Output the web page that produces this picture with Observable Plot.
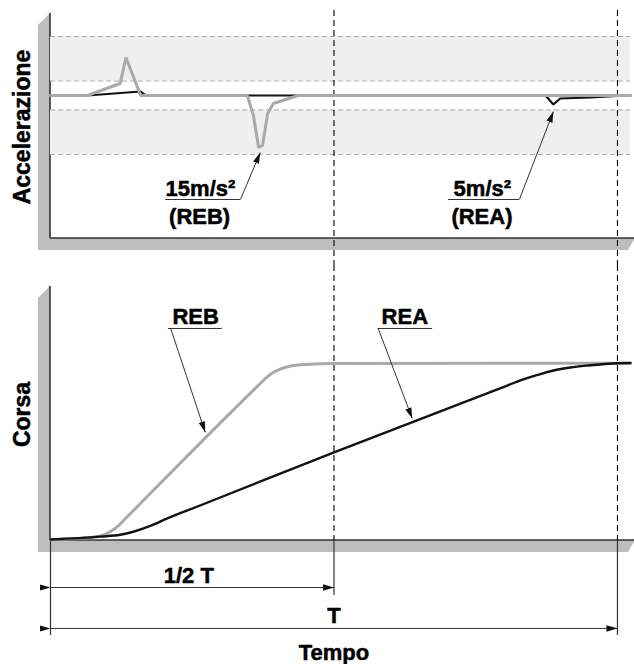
<!DOCTYPE html>
<html><head><meta charset="utf-8">
<script src="https://cdn.jsdelivr.net/npm/d3@7"></script>
<script src="https://cdn.jsdelivr.net/npm/@observablehq/plot@0.6"></script>
<style>
html,body{margin:0;padding:0;background:#fff;}
#chart svg{display:block;}
</style></head><body><div id="chart"></div>
<script>
// Time expressed in % of T (T = 100)
const halfT = 50, fullT = 100, tMax = 102.3;
const timeMarks = [halfT, fullT];

// Acceleration (schematic units, positive upwards)
const accTimeREB = [0, 6.5, 12.3, 13.3, 15.9, 34.7, 35.8, 36.7, 37.4, 38.3, 39.3, 43.7, 102.3];
const accREB     = [0, 0,   12,   38,   0,    0,    -20,  -52,  -50,  -18,  -8,   0,    0];
const accTimeREA = [0, 6.5, 15.9, 16.8, 87.3, 88.7, 89.9, 95.2, 100, 102.3];
const accREA     = [0, 0,   4,    0,    0,    -9,   -3,   -2,   -0.5, 0];
const bandLevels = [59, 14.5, -14.5, -59];

// Stroke (Corsa, % of full stroke)
const strokeTimeREB = [0, 7.05, 8.8, 10.6, 12.0, 13.4, 36.6, 37.8, 39.0, 40.4, 42.2, 45, 50, 102.3];
const strokeREB     = [0.6, 1.7, 2.5, 5.1, 8.4, 12.9, 87.0, 90.7, 93.8, 96.2, 97.9, 98.9, 99.4, 99.6];
const strokeTimeREA = [0, 8.8, 12.3, 14.6, 17.6, 20.6, 26.5, 49.9, 79.4, 82.9, 85.9, 88.7, 91.7, 94.7, 100, 102.3];
const strokeREA     = [0.6, 2.2, 3.2, 4.9, 8.2, 12.4, 19.8, 49.4, 85.6, 89.9, 93.0, 95.5, 97.2, 98.3, 99.6, 99.7];

// Texts
const accLabel = "Accelerazione";
const strokeLabel = "Corsa";
const timeLabel = "Tempo";
const dimLabels = ["1/2 T", "T"];
const accNotes = ["15m/s²", "(REB)", "5m/s²", "(REA)"];
const seriesNames = ["REB", "REA"];

const FONT = "Liberation Sans, Arial, Helvetica, sans-serif";
const GRAY = "#a9a9a9", BLACK = "#111", WALL = "#bdbdbd", AX = "#333";
const zip = (xs, ys) => xs.map((t, i) => ({t, v: ys[i]}));
const txt = {fontFamily: FONT, fontWeight: "bold", fontSize: 22, fill: "#000", stroke: "#000", strokeWidth: 0.5};
const vtxt = {...txt, fontSize: 23};

function decorate(chart, yTopVal, yBaseVal) {
  const sx = chart.scale("x"), sy = chart.scale("y");
  const x0 = sx.apply(0), x1 = sx.apply(tMax);
  const yt = sy.apply(yTopVal), yb = sy.apply(yBaseVal);
  const svg = d3.select(chart);
  const d = 12;
  const g = svg.insert("g", ":first-child");
  g.append("polygon")
    .attr("points", [[x0 - d, yt + 10], [x0, yt - 2], [x0, yb], [x1 + 5, yb], [x1 - 2, yb + d], [x0 - d, yb + d]].map(p => p.join(",")).join(" "))
    .attr("fill", WALL);
  g.append("line").attr("x1", x0).attr("x2", x0).attr("y1", yt - 2).attr("y2", yb).attr("stroke", AX).attr("stroke-width", 1.6);
  g.append("line").attr("x1", x0).attr("x2", x1 + 5).attr("y1", yb).attr("y2", yb).attr("stroke", AX).attr("stroke-width", 1.6);
  svg.selectAll("marker")
    .attr("viewBox", "-11 -4 11 8").attr("markerWidth", 11).attr("markerHeight", 8)
    .attr("markerUnits", "userSpaceOnUse").attr("fill", BLACK).attr("stroke", "none")
    .selectAll("path").attr("d", "M-11,-3.2L0,0L-11,3.2Z");
}

// ---------- Top panel: acceleration ----------
const accY = [-143, 80];
const accChart = Plot.plot({
  width: 634, height: 265,
  marginLeft: 50, marginRight: 4, marginTop: 15, marginBottom: 27,
  x: {domain: [0, tMax], axis: null},
  y: {domain: accY, axis: null},
  style: {fontFamily: FONT, background: "transparent"},
  marks: [
    Plot.rect([[bandLevels[1], bandLevels[0]], [bandLevels[3], bandLevels[2]]], {x1: 0, x2: tMax, y1: d => d[0], y2: d => d[1], fill: "#efefef"}),
    Plot.ruleY(bandLevels, {x1: 0, x2: tMax, stroke: "#aaa", strokeDasharray: "5,3", strokeWidth: 1}),
    Plot.ruleX(timeMarks, {y1: 85, y2: -170, stroke: "#000", strokeDasharray: "6,4", strokeWidth: 1.1}),
    Plot.line(zip(accTimeREA, accREA), {x: "t", y: "v", stroke: BLACK, strokeWidth: 2.2, strokeLinejoin: "miter"}),
    Plot.line(zip(accTimeREB, accREB), {x: "t", y: "v", stroke: GRAY, strokeWidth: 3, strokeLinejoin: "miter"}),
    // annotations
    Plot.ruleY([{a: 20.3, b: 33.5, y: -104}, {a: 70.2, b: 82.7, y: -104}], {x1: "a", x2: "b", y: "y", stroke: AX, strokeWidth: 1}),
    Plot.link([{a: 33.5, b: -104, c: 37.0, e: -57}, {a: 82.7, b: -104, c: 88.7, e: -16}], {x1: "a", y1: "b", x2: "c", y2: "e", stroke: AX, strokeWidth: 1, markerEnd: "arrow"}),
    Plot.text([{t: 20.3, v: -100, s: accNotes[0]}, {t: 71.1, v: -100, s: accNotes[2]}], {x: "t", y: "v", text: "s", textAnchor: "start", lineAnchor: "bottom", ...txt}),
    Plot.text([{t: 26.3, v: -128, s: accNotes[1]}, {t: 76.1, v: -128, s: accNotes[3]}], {x: "t", y: "v", text: "s", textAnchor: "middle", lineAnchor: "bottom", ...txt}),
    Plot.text([accLabel], {frameAnchor: "left", dx: -21, rotate: -90, textAnchor: "middle", lineAnchor: "bottom", ...vtxt})
  ]
});
decorate(accChart, accY[1], accY[0]);

// ---------- Bottom panel: stroke ----------
const strokeY = [0, 141.57];
const strokeChart = Plot.plot({
  width: 634, height: 399,
  marginLeft: 50, marginRight: 4, marginTop: 23, marginBottom: 124,
  x: {domain: [0, tMax], axis: null},
  y: {domain: strokeY, axis: null},
  style: {fontFamily: FONT, background: "transparent"},
  marks: [
    Plot.ruleX(timeMarks, {y1: 154.5, y2: 0, stroke: "#000", strokeDasharray: "6,4", strokeWidth: 1.1}),
    Plot.ruleX([0, halfT, fullT], {y1: 0, y2: [-53.4, -30.9, -53.4], stroke: AX, strokeWidth: 1.2}),
    Plot.line(zip(strokeTimeREB, strokeREB), {x: "t", y: "v", stroke: GRAY, strokeWidth: 3, curve: "monotone-x"}),
    Plot.line(zip(strokeTimeREA, strokeREA), {x: "t", y: "v", stroke: BLACK, strokeWidth: 2.4, curve: "monotone-x"}),
    // series labels
    Plot.ruleY([{a: 20.8, b: 30.3}, {a: 57.8, b: 67.4}], {x1: "a", x2: "b", y: 119.1, stroke: AX, strokeWidth: 1}),
    Plot.link([{a: 21.2, b: 119.1, c: 27.3, e: 60.7}, {a: 57.8, b: 119.1, c: 63.8, e: 68.5}], {x1: "a", y1: "b", x2: "c", y2: "e", stroke: AX, strokeWidth: 1, markerEnd: "arrow"}),
    Plot.text([{t: 21.5, s: seriesNames[0]}, {t: 58.4, s: seriesNames[1]}], {x: "t", y: 121.9, text: "s", textAnchor: "start", lineAnchor: "bottom", ...txt}),
    // time dimensions
    Plot.link([{b: halfT, y: -26.4}, {b: fullT, y: -49.4}], {x1: 0, x2: "b", y1: "y", y2: "y", stroke: AX, strokeWidth: 1, markerStart: "arrow", markerEnd: "arrow"}),
    Plot.text([{t: 24.4, v: -23.6, s: dimLabels[0]}, {t: halfT, v: -46.6, s: dimLabels[1]}, {t: halfT, v: -66.9, s: timeLabel}], {x: "t", y: "v", text: "s", textAnchor: "middle", lineAnchor: "bottom", ...txt}),
    Plot.text([strokeLabel], {frameAnchor: "left", dx: -21, rotate: -90, textAnchor: "middle", lineAnchor: "bottom", ...vtxt})
  ]
});
decorate(strokeChart, strokeY[1], strokeY[0]);

document.getElementById("chart").append(accChart, strokeChart);
</script></body></html>
